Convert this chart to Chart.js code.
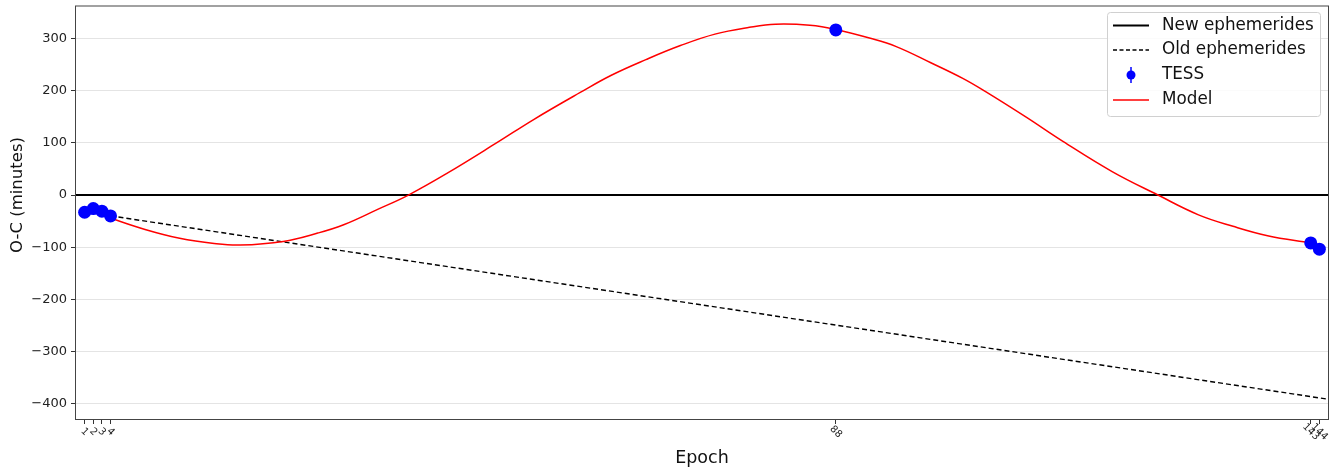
<!DOCTYPE html>
<html>
<head>
<meta charset="utf-8">
<script src="https://cdn.jsdelivr.net/npm/chart.js@4"></script>
<style>
  body { margin: 0; background: #fff; }
  #wrap { width: 1342px; height: 472px; }
</style>
</head>
<body>
<div id="wrap"><canvas id="ocChart"></canvas></div>
<script>
// TESS transit timings (epoch, O-C in minutes)
var tessEpochs = [1, 2, 3, 4, 88, 143, 144];
var tessOC = [-33, -26, -31, -40, 317, -92, -104];

// model curve
var modelEpochs = [1, 4, 8, 12, 16, 19, 24, 28, 31, 35, 38.5, 43, 48.7, 53, 58.4, 62, 66, 70, 74, 78, 81, 85, 88, 92, 95, 99, 102.7, 105.3, 110, 114.3, 120, 125.3, 130, 134, 138, 143];
var modelOC = [-24, -44, -66, -83, -93, -96, -89, -73, -57, -27, 0, 42, 100, 145, 197, 230, 260, 287, 309, 322, 328, 326, 318, 301, 285, 254, 224, 199, 150, 103, 45, 0, -38, -60, -78, -92];

// ephemerides lines
var oldEphEpochs = [4, 145];
var oldEphOC = [-40, -392];
var newEphEpochs = [0, 145];
var newEphOC = [0, 0];

var xTicks = [1, 2, 3, 4, 88, 143, 144];
var yTicks = [-400, -300, -200, -100, 0, 100, 200, 300];

function pts(xs, ys) {
  return xs.map(function (x, i) { return { x: x, y: ys[i] }; });
}

var FONT = "'DejaVu Sans', sans-serif";

var extras = {
  id: "extras",
  afterDatasetsDraw: function (chart) {
    var ctx = chart.ctx;
    var a = chart.chartArea;
    ctx.save();
    ctx.strokeStyle = "#444";
    ctx.lineWidth = 1;
    ctx.strokeRect(a.left - 0.5, a.top - 0.5, a.right - a.left + 1, a.bottom - a.top + 1);
    ctx.restore();
  },
  afterDraw: function (chart) {
    var ctx = chart.ctx;
    var a = chart.chartArea;
    var xs = chart.scales.x;

    // rotated epoch labels
    ctx.save();
    ctx.fillStyle = "#222";
    ctx.font = "10px " + FONT;
    ctx.textAlign = "center";
    ctx.textBaseline = "middle";
    xTicks.forEach(function (t) {
      var px = xs.getPixelForValue(t);
      ctx.save();
      ctx.translate(px, a.bottom + 13);
      ctx.rotate(Math.PI / 4);
      ctx.fillText(String(t), 0, 0);
      ctx.restore();
    });
    ctx.restore();

    // axis titles
    ctx.save();
    ctx.fillStyle = "#111";
    ctx.font = "17.5px " + FONT;
    ctx.textAlign = "center";
    ctx.textBaseline = "middle";
    ctx.fillText("Epoch", (a.left + a.right) / 2, 458);
    ctx.translate(18, 195);
    ctx.rotate(-Math.PI / 2);
    ctx.font = "16.5px " + FONT;
    ctx.fillText("O-C (minutes)", 0, 0);
    ctx.restore();

    // legend
    ctx.save();
    var bx = 1107, by = 12, bw = 213, bh = 104;
    ctx.fillStyle = "rgba(255,255,255,0.85)";
    ctx.strokeStyle = "#d0d0d0";
    ctx.lineWidth = 1;
    ctx.beginPath();
    ctx.roundRect(bx + 0.5, by + 0.5, bw, bh, 3);
    ctx.fill();
    ctx.stroke();

    var rows = [25.5, 50, 75, 100];
    // new ephemerides
    ctx.strokeStyle = "#000";
    ctx.lineWidth = 1.8;
    ctx.beginPath(); ctx.moveTo(1113, rows[0]); ctx.lineTo(1149, rows[0]); ctx.stroke();
    // old ephemerides
    ctx.lineWidth = 1.4;
    ctx.setLineDash([4, 2.5]);
    ctx.beginPath(); ctx.moveTo(1113, rows[1]); ctx.lineTo(1149, rows[1]); ctx.stroke();
    ctx.setLineDash([]);
    // TESS
    ctx.strokeStyle = "#0000ff";
    ctx.fillStyle = "#0000ff";
    ctx.lineWidth = 1.5;
    ctx.beginPath(); ctx.moveTo(1131, rows[2] - 8); ctx.lineTo(1131, rows[2] + 8); ctx.stroke();
    ctx.beginPath(); ctx.arc(1131, rows[2], 4.5, 0, Math.PI * 2); ctx.fill();
    // model
    ctx.strokeStyle = "#ff0000";
    ctx.lineWidth = 1.5;
    ctx.beginPath(); ctx.moveTo(1113, rows[3]); ctx.lineTo(1149, rows[3]); ctx.stroke();

    ctx.fillStyle = "#111";
    ctx.font = "16.8px " + FONT;
    ctx.textAlign = "left";
    ctx.textBaseline = "middle";
    ["New ephemerides", "Old ephemerides", "TESS", "Model"].forEach(function (s, i) {
      ctx.fillText(s, 1162, rows[i]);
    });
    ctx.restore();
  }
};

var ctx = document.getElementById("ocChart").getContext("2d");
var chart = new Chart(ctx, {
  type: "scatter",
  data: {
    datasets: [
      {
        label: "TESS",
        data: pts(tessEpochs, tessOC),
        backgroundColor: "#0000ff",
        borderColor: "#0000ff",
        pointRadius: 6.5,
        pointBorderWidth: 0,
        order: 0
      },
      {
        label: "Model",
        type: "line",
        data: pts(modelEpochs, modelOC),
        borderColor: "#ff0000",
        borderWidth: 1.5,
        pointRadius: 0,
        tension: 0.4,
        fill: false,
        order: 1
      },
      {
        label: "Old ephemerides",
        type: "line",
        data: pts(oldEphEpochs, oldEphOC),
        borderColor: "#000",
        borderWidth: 1.4,
        borderDash: [5, 3],
        pointRadius: 0,
        fill: false,
        order: 2
      },
      {
        label: "New ephemerides",
        type: "line",
        data: pts(newEphEpochs, newEphOC),
        borderColor: "#000",
        borderWidth: 2,
        pointRadius: 0,
        fill: false,
        order: 3
      }
    ]
  },
  options: {
    responsive: true,
    maintainAspectRatio: false,
    animation: false,
    layout: { padding: { top: 4, right: 14, left: 0, bottom: 0 } },
    plugins: {
      legend: { display: false },
      tooltip: { enabled: false }
    },
    scales: {
      x: {
        type: "linear",
        min: 0,
        max: 145,
        afterBuildTicks: function (scale) {
          scale.ticks = xTicks.map(function (v) { return { value: v }; });
        },
        afterFit: function (scale) {
          scale.height = 53;
          scale.paddingLeft = 0;
          scale.paddingRight = 0;
        },
        ticks: { display: false },
        grid: { drawOnChartArea: false, drawTicks: true, tickLength: 5, tickColor: "#333" },
        border: { display: false }
      },
      y: {
        min: -430,
        max: 362,
        afterBuildTicks: function (scale) {
          scale.ticks = yTicks.map(function (v) { return { value: v }; });
        },
        afterFit: function (scale) {
          scale.width = 76;
          scale.paddingTop = 0;
          scale.paddingBottom = 0;
        },
        ticks: {
          color: "#222",
          padding: 4,
          font: { family: FONT, size: 13 },
          callback: function (v) { return String(v).replace("-", "\u2212"); }
        },
        grid: { color: "#e4e4e4", lineWidth: 1, tickLength: 5, tickColor: "#333" },
        border: { display: false }
      }
    }
  },
  plugins: [extras]
});
</script>
</body>
</html>
